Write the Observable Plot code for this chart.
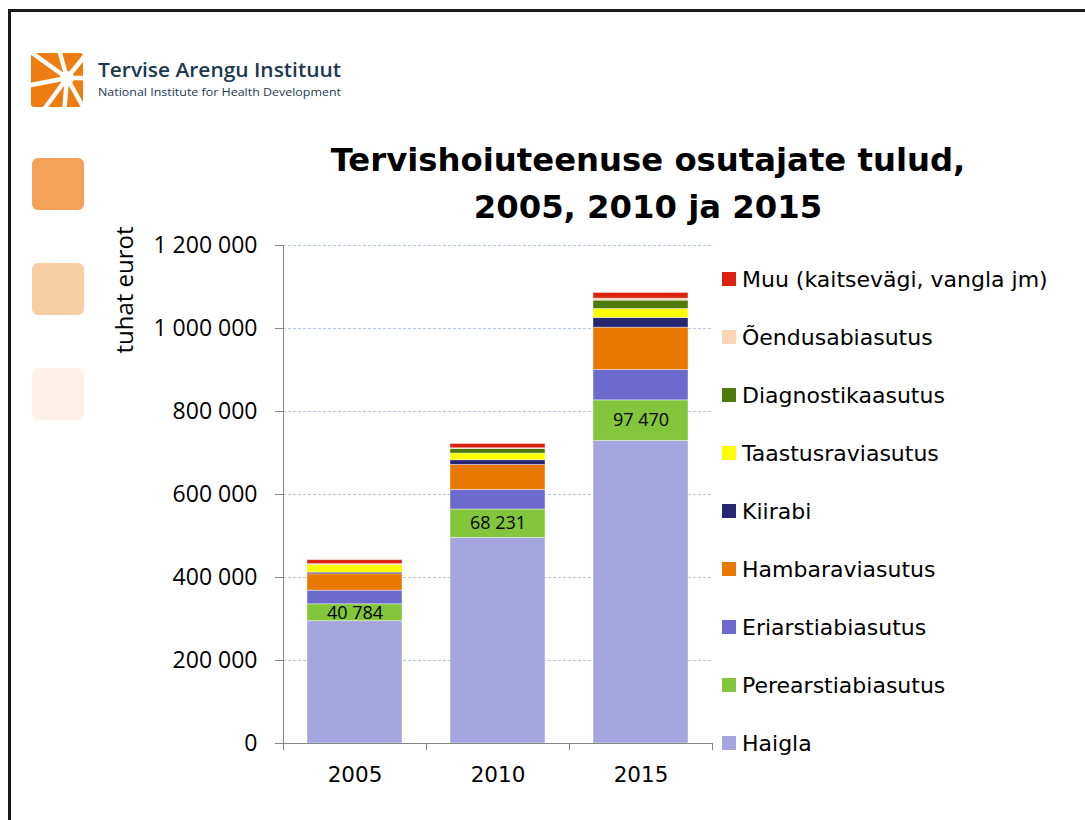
<!DOCTYPE html>
<html>
<head>
<meta charset="utf-8">
<script src="https://cdn.jsdelivr.net/npm/d3@7"></script>
<script src="https://cdn.jsdelivr.net/npm/@observablehq/plot@0.6"></script>
<style>
  body { margin: 0; background: #fff; }
  #page { position: relative; width: 1085px; height: 820px; overflow: hidden; background: #fff; font-family: "DejaVu Sans", sans-serif; }
  #chart { position: absolute; left: 0; top: 0; }
  #frame { position: absolute; left: 8px; top: 9px; width: 1200px; height: 900px; border-left: 3px solid #1a1a1a; border-top: 3px solid #1a1a1a; }
  .sq { position: absolute; left: 32px; width: 52px; height: 52px; border-radius: 6px; }
  #title { position: absolute; left: 248px; width: 800px; top: 137px; text-align: center; font-family: "DejaVu Sans", sans-serif; font-weight: bold; font-size: 32.3px; line-height: 47px; color: #000; }
  #legend { position: absolute; left: 722px; top: 0; }
  .lg { position: absolute; left: 0; display: flex; align-items: center; height: 30px; white-space: nowrap; font-family: "DejaVu Sans", sans-serif; font-size: 22px; color: #000; }
  .lg span.sw { display: inline-block; width: 14px; height: 14px; margin-right: 6px; }
  #overlay { position: absolute; left: 0; top: 0; }
</style>
</head>
<body>
<div id="page">
  <div id="frame"></div>
  <div class="sq" style="top:158px;background:#f4a259;"></div>
  <div class="sq" style="top:263px;background:#f9cda2;"></div>
  <div class="sq" style="top:368px;background:#fef1e7;"></div>
  <div id="chart"></div>
  <svg id="overlay" width="1085" height="820"></svg>
  <div id="title"></div>
  <div id="legend"></div>
</div>
<script>
// ---- data ----
const years = ["2005", "2010", "2015"];
const categories = [
  "Haigla",
  "Perearstiabiasutus",
  "Eriarstiabiasutus",
  "Hambaraviasutus",
  "Kiirabi",
  "Taastusraviasutus",
  "Diagnostikaasutus",
  "Õendusabiasutus",
  "Muu (kaitsevägi, vangla jm)"
];
const colors = ["#a5a5df", "#83c63c", "#6b6bcd", "#e87800", "#262673", "#ffff00", "#4e7a0c", "#fcd5b4", "#dc2312"];
const haigla      = [294700, 495600, 729400];
const perearst    = [40784, 68231, 97470];
const eriarst     = [32800, 47200, 73100];
const hambaravi   = [39500, 60200, 102000];
const kiirabi     = [3900, 11300, 23400];
const taastusravi = [18500, 16100, 21700];
const diagnostika = [800, 11100, 20100];
const oendusabi   = [1200, 1600, 4800];
const muu         = [9600, 10400, 13700];
const yTicks = [0, 200000, 400000, 600000, 800000, 1000000, 1200000];
const labelledCategory = "Perearstiabiasutus";
const titleLines = ["Tervishoiuteenuse osutajate tulud,", "2005, 2010 ja 2015"];
const yLabel = "tuhat eurot";
const logoName = "Tervise Arengu Instituut";
const logoSub = "National Institute for Health Development";

const seriesValues = [haigla, perearst, eriarst, hambaravi, kiirabi, taastusravi, diagnostika, oendusabi, muu];
const data = categories.flatMap((c, i) => years.map((y, j) => ({year: y, category: c, value: seriesValues[i][j]})));
const fmt = v => d3.format(",")(v).replace(/,/g, " ");

// ---- chart ----
const W = 1085, H = 820;
const chart = Plot.plot({
  width: W,
  height: H,
  marginLeft: 283,
  marginRight: 373,
  marginTop: 245,
  marginBottom: 77,
  style: {background: "transparent", overflow: "visible"},
  x: {domain: years, paddingInner: 0.334, paddingOuter: 0.167, label: null},
  y: {domain: [0, 1200000], label: null},
  color: {domain: categories, range: colors},
  marks: [
    Plot.gridY({ticks: yTicks.filter(d => d > 0), stroke: "#b4c8e2", strokeOpacity: 1, strokeDasharray: "3,2"}),
    Plot.barY(data, {x: "year", y: "value", fill: "category", order: categories, stroke: "white", strokeWidth: 0.8, strokeOpacity: 0.5}),
    Plot.text(data, Plot.stackY({
      x: "year", y: "value", z: "category", order: categories,
      text: d => d.category === labelledCategory ? fmt(d.value) : null,
      fontSize: 18, fontFamily: "Open Sans", fill: "black"
    })),
    Plot.ruleY([0], {stroke: "#868686"}),
    // y axis line and category boundary ticks, from the scales and frame
    (index, scales, values, dims) => {
      const g = d3.create("svg:g").attr("stroke", "#868686").attr("stroke-width", 1);
      const x0 = dims.marginLeft, x1 = dims.width - dims.marginRight;
      const yb = scales.y(0), yt = scales.y(1200000);
      g.append("line").attr("x1", x0 + 0.5).attr("x2", x0 + 0.5).attr("y1", yt).attr("y2", yb + 7);
      const n = years.length;
      for (let k = 1; k <= n; k++) {
        const xx = Math.round(x0 + k * (x1 - x0) / n) + 0.5;
        g.append("line").attr("x1", xx).attr("x2", xx).attr("y1", yb).attr("y2", yb + 7);
      }
      return g.node();
    },
    Plot.axisY({ticks: yTicks, tickSize: 8, tickPadding: 18, tickFormat: fmt, stroke: "#868686", fontSize: 23, fontFamily: "Open Sans", label: null}),
    Plot.axisX({tickSize: 0, tickPadding: 23, fontSize: 21.5, fontFamily: "DejaVu Sans", label: null})
  ]
});
chart.querySelectorAll("text").forEach(t => { if (!t.getAttribute("fill")) t.setAttribute("fill", "#000"); });
chart.style.color = "#000";
document.getElementById("chart").appendChild(chart);

// ---- title ----
document.getElementById("title").innerHTML = titleLines.map(s => `<div>${s}</div>`).join("");

// ---- legend ----
const legend = document.getElementById("legend");
[...categories].reverse().forEach((c, i) => {
  const row = document.createElement("div");
  row.className = "lg";
  row.style.top = (279 + i * 58 - 15) + "px";
  const ci = categories.indexOf(c);
  row.innerHTML = `<span class="sw" style="background:${colors[ci]}"></span><span>${c}</span>`;
  legend.appendChild(row);
});

// ---- overlay: logo and y-axis title ----
const ov = d3.select("#overlay");
ov.append("text")
  .attr("transform", "translate(123,290) rotate(-90)")
  .attr("text-anchor", "middle").attr("dominant-baseline", "central")
  .attr("font-family", "Open Sans").attr("font-size", 24).attr("fill", "#000")
  .text(yLabel);
// logo mark
const lg = ov.append("g");
lg.append("rect").attr("x", 31).attr("y", 53).attr("width", 52).attr("height", 54).attr("rx", 3).attr("fill", "#ee7d11");
const cx = 67, cy = 78;
const rays = [[28, 50], [58, 46], [88, 52], [90, 78], [86, 112], [64, 114], [42, 112], [26, 86]];
rays.forEach(([ex, ey]) => lg.append("line").attr("x1", cx).attr("y1", cy).attr("x2", ex).attr("y2", ey).attr("stroke", "#fff").attr("stroke-width", 4.5));
lg.append("circle").attr("cx", cx).attr("cy", cy).attr("r", 7).attr("fill", "#fff");
lg.append("rect").attr("x", 83).attr("y", 50).attr("width", 10).attr("height", 62).attr("fill", "#fff");
ov.append("text").attr("x", 98).attr("y", 77).attr("font-family", "Open Sans").attr("font-weight", 600)
  .attr("font-size", 19).attr("fill", "#1d3850").attr("textLength", 243).attr("lengthAdjust", "spacingAndGlyphs").text(logoName);
ov.append("text").attr("x", 98).attr("y", 96).attr("font-family", "Open Sans")
  .attr("font-size", 10.5).attr("fill", "#1d3850").attr("textLength", 243).attr("lengthAdjust", "spacingAndGlyphs").text(logoSub);
</script>
</body>
</html>
